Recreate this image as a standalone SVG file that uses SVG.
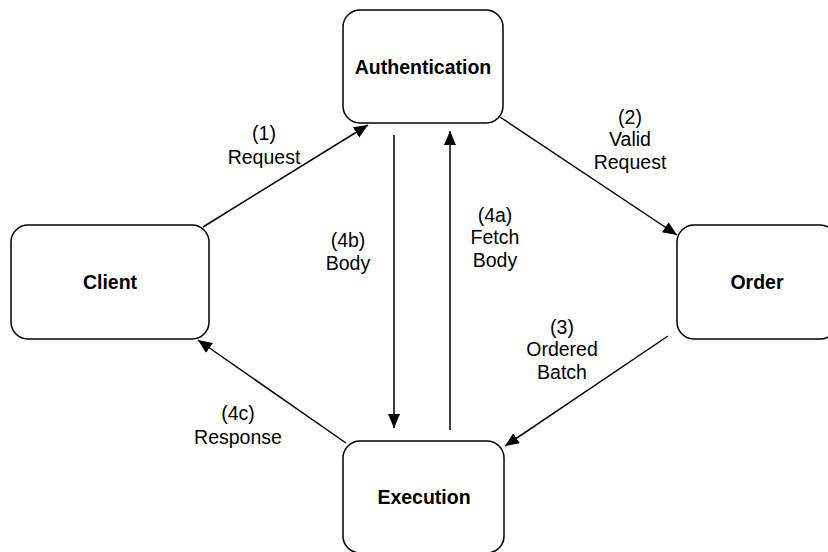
<svg xmlns="http://www.w3.org/2000/svg" width="828" height="552" viewBox="0 0 828 552">
  <defs>
    <marker id="arrow" markerUnits="userSpaceOnUse" markerWidth="15" markerHeight="13" refX="14" refY="6" orient="auto">
      <path d="M0,0 L14,6 L0,12 z" fill="#000"/>
    </marker>
    <style>
      .box { fill: #fff; stroke: #000; stroke-width: 1.5; }
      .title { font-family: "Liberation Sans", Arial, Helvetica, sans-serif; font-size: 19.5px; font-weight: bold; text-anchor: middle; fill: #000; }
      .edge { fill: none; stroke: #000; stroke-width: 1.5; marker-end: url(#arrow); }
      .lbl { font-family: "Liberation Sans", Arial, Helvetica, sans-serif; font-size: 19.5px; text-anchor: middle; fill: #000; }
    </style>
  </defs>
  <rect width="828" height="552" fill="#fff"/>
  <g id="connectors">
    <line class="edge" x1="203" y1="227" x2="368" y2="125"/>
    <line class="edge" x1="500" y1="117" x2="677" y2="235"/>
    <line class="edge" x1="668" y1="336" x2="505" y2="446"/>
    <line class="edge" x1="346" y1="443" x2="198" y2="340"/>
    <line class="edge" x1="394" y1="135" x2="394" y2="428"/>
    <line class="edge" x1="450" y1="430" x2="450" y2="131"/>
  </g>
  <g id="labels">
    <text class="lbl" x="264" y="140">(1)</text>
    <text class="lbl" x="264" y="164">Request</text>
    <text class="lbl" x="630" y="124">(2)</text>
    <text class="lbl" x="630" y="146">Valid</text>
    <text class="lbl" x="630" y="169">Request</text>
    <text class="lbl" x="495" y="222">(4a)</text>
    <text class="lbl" x="495" y="244">Fetch</text>
    <text class="lbl" x="495" y="267">Body</text>
    <text class="lbl" x="348" y="247">(4b)</text>
    <text class="lbl" x="348" y="270">Body</text>
    <text class="lbl" x="562" y="334">(3)</text>
    <text class="lbl" x="562" y="356">Ordered</text>
    <text class="lbl" x="562" y="379">Batch</text>
    <text class="lbl" x="238" y="420">(4c)</text>
    <text class="lbl" x="238" y="444">Response</text>
  </g>
  <g id="authentication">
    <rect class="box" x="343" y="10" width="160" height="113" rx="17" ry="17"/>
    <text class="title" x="423" y="74">Authentication</text>
  </g>
  <g id="client">
    <rect class="box" x="11" y="225" width="198" height="114" rx="17" ry="17"/>
    <text class="title" x="110" y="289">Client</text>
  </g>
  <g id="order">
    <rect class="box" x="677" y="225" width="160" height="114" rx="17" ry="17"/>
    <text class="title" x="757" y="289">Order</text>
  </g>
  <g id="execution">
    <rect class="box" x="343" y="441" width="161" height="112" rx="17" ry="17"/>
    <text class="title" x="424" y="504">Execution</text>
  </g>
</svg>
